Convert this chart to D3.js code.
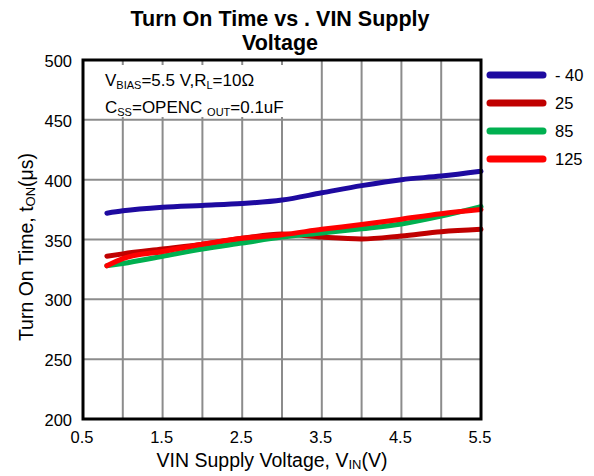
<!DOCTYPE html>
<html>
<head>
<meta charset="utf-8">
<script src="https://cdn.jsdelivr.net/npm/d3@7"></script>
<style>
  body { margin: 0; background: #fff; }
  text { font-family: "Liberation Sans", Arial, sans-serif; }
</style>
</head>
<body>
<div id="chart"></div>
<script>
"use strict";

// supply voltage samples (V)
var vin = [0.8, 1.0, 1.5, 2.0, 2.5, 3.0, 3.5, 4.0, 4.5, 5.0, 5.5];

// turn on time per temperature (us)
var tMinus40 = [372, 374, 377, 378.5, 380, 383, 389, 395, 400, 403, 407];
var t25 = [336, 338, 342, 346, 351, 354.5, 352, 350.5, 353, 356.5, 358.5];
var t85 = [328, 330, 336, 342, 347, 352, 355.5, 359, 363, 369.5, 377.5];
var t125 = [328, 334, 340, 346, 351, 354, 358.5, 362.5, 367, 371.5, 375];

var seriesNames = ["- 40", "25", "85", "125"];
var seriesColors = ["#1e0aa0", "#c00000", "#00b050", "#ff0000"];
var seriesValues = [tMinus40, t25, t85, t125];

var xTicks = [0.5, 1.5, 2.5, 3.5, 4.5, 5.5];
var yTicks = [200, 250, 300, 350, 400, 450, 500];

var width = 594, height = 476;
var margin = { top: 60, right: 113, bottom: 57, left: 83 };
var innerW = width - margin.left - margin.right;
var innerH = height - margin.top - margin.bottom;

var svg = d3.select("#chart").append("svg")
    .attr("width", width)
    .attr("height", height);

var x = d3.scaleLinear().domain([0.5, 5.5]).range([margin.left, margin.left + innerW]);
var y = d3.scaleLinear().domain([200, 500]).range([margin.top + innerH, margin.top]);

// grid lines
var grid = svg.append("g");
grid.selectAll("line.v")
    .data(d3.range(1.0, 5.5, 0.5))
    .enter().append("line")
    .attr("x1", d => x(d)).attr("x2", d => x(d))
    .attr("y1", y(500)).attr("y2", y(200))
    .attr("stroke", "#8c8c8c").attr("stroke-width", 2);
grid.selectAll("line.h")
    .data(yTicks.slice(1, -1))
    .enter().append("line")
    .attr("x1", x(0.5)).attr("x2", x(5.5))
    .attr("y1", d => y(d)).attr("y2", d => y(d))
    .attr("stroke", "#8c8c8c").attr("stroke-width", 2);

// annotation box covers the grid
svg.append("rect")
    .attr("x", x(0.5) + 2).attr("y", 65)
    .attr("width", 224).attr("height", 52)
    .attr("fill", "#fff");

var note = svg.append("g").attr("font-size", 17).attr("fill", "#000");
var n1 = note.append("text").attr("x", 105).attr("y", 86);
n1.append("tspan").text("V");
n1.append("tspan").attr("font-size", 11).attr("dy", 3).text("BIAS");
n1.append("tspan").attr("dy", -3).text("=5.5 V,R");
n1.append("tspan").attr("font-size", 11).attr("dy", 3).text("L");
n1.append("tspan").attr("dy", -3).text("=10\u03a9");
var n2 = note.append("text").attr("x", 105).attr("y", 113);
n2.append("tspan").text("C");
n2.append("tspan").attr("font-size", 11).attr("dy", 3).text("SS");
n2.append("tspan").attr("dy", -3).text("=OPENC ");
n2.append("tspan").attr("font-size", 11).attr("dy", 3).text("OUT");
n2.append("tspan").attr("dy", -3).text("=0.1uF");

// curves
var line = d3.line()
    .x((d, i) => x(vin[i]))
    .y(d => y(d))
    .curve(d3.curveMonotoneX);

svg.append("g").selectAll("path")
    .data(seriesValues)
    .enter().append("path")
    .attr("d", d => line(d))
    .attr("fill", "none")
    .attr("stroke", (d, i) => seriesColors[i])
    .attr("stroke-width", 5)
    .attr("stroke-linecap", "round")
    .attr("stroke-linejoin", "round");

// plot frame
svg.append("rect")
    .attr("x", x(0.5)).attr("y", y(500))
    .attr("width", innerW).attr("height", innerH)
    .attr("fill", "none").attr("stroke", "#000").attr("stroke-width", 3);

// tick labels
svg.append("g").selectAll("text")
    .data(yTicks)
    .enter().append("text")
    .attr("x", 72).attr("y", d => y(d) + 7)
    .attr("text-anchor", "end")
    .attr("font-size", 16.5)
    .text(d => d);

svg.append("g").selectAll("text")
    .data(xTicks)
    .enter().append("text")
    .attr("x", d => x(d) - 1).attr("y", 443)
    .attr("text-anchor", "middle")
    .attr("font-size", 16.5)
    .text(d => d.toFixed(1));

// legend
var legend = svg.append("g").selectAll("g")
    .data(seriesNames)
    .enter().append("g")
    .attr("transform", (d, i) => "translate(0," + (75 + i * 28) + ")");
legend.append("line")
    .attr("x1", 490).attr("x2", 543)
    .attr("stroke", (d, i) => seriesColors[i])
    .attr("stroke-width", 7)
    .attr("stroke-linecap", "round");
legend.append("text")
    .attr("x", 555).attr("y", 6)
    .attr("font-size", 16.5)
    .text(d => d);

// title
var title = svg.append("text")
    .attr("text-anchor", "middle")
    .attr("font-size", 21.5)
    .attr("font-weight", "bold");
title.append("tspan").attr("x", 280).attr("y", 26).text("Turn On Time vs . VIN Supply");
title.append("tspan").attr("x", 280).attr("y", 50).text("Voltage");

// axis titles
var xl = svg.append("text")
    .attr("x", 272).attr("y", 467)
    .attr("text-anchor", "middle")
    .attr("font-size", 19.5);
xl.append("tspan").text("VIN Supply Voltage, V");
xl.append("tspan").attr("font-size", 13).attr("dy", 2).text("IN");
xl.append("tspan").attr("dy", -2).text("(V)");

var yl = svg.append("text")
    .attr("transform", "translate(33,247) rotate(-90)")
    .attr("text-anchor", "middle")
    .attr("font-size", 19.5);
yl.append("tspan").text("Turn On Time, t");
yl.append("tspan").attr("font-size", 13).attr("dy", 2).text("ON");
yl.append("tspan").attr("dy", -2).text("(\u03bcs)");
</script>
</body>
</html>
